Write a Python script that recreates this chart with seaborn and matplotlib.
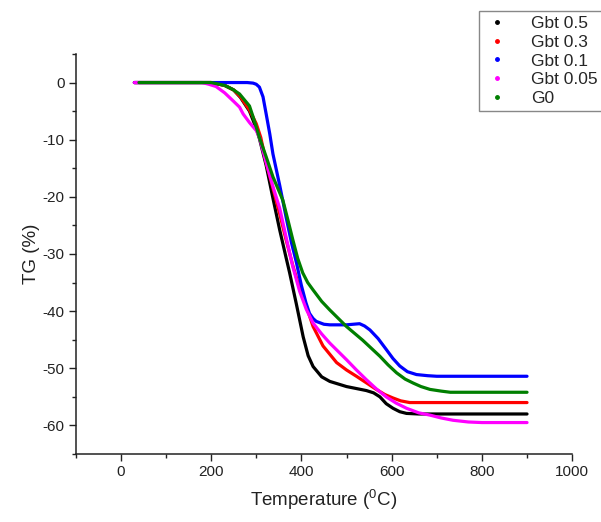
import numpy as np
import pandas as pd
import matplotlib
matplotlib.use("Agg")
import matplotlib.pyplot as plt
from matplotlib.lines import Line2D
from matplotlib.ticker import MultipleLocator
import seaborn as sns

# ---- data ----
series_names = ["Gbt 0.5", "Gbt 0.3", "Gbt 0.1", "Gbt 0.05", "G0"]
series_colors = ["#000000", "#ff0000", "#0000ff", "#ff00ff", "#007f00"]

t_gbt05 = [30, 100, 200, 230, 250, 265, 285, 300, 307, 322, 335, 345, 352, 366, 374, 389, 404,
           415, 426, 445, 463, 500, 544, 560, 574, 588, 603, 618, 633, 660, 700, 800, 900]
y_gbt05 = [0, 0, 0, -0.5, -1.3, -2.6, -5.0, -8.0, -9.8, -14.5, -19.5, -23.2, -25.8, -30.6, -33.3,
           -38.8, -44.5, -47.8, -49.7, -51.5, -52.3, -53.2, -53.9, -54.3, -55.0, -56.2, -57.0,
           -57.6, -57.9, -58.0, -58.0, -58.0, -58.0]

t_gbt03 = [30, 100, 200, 230, 250, 265, 285, 300, 310, 322, 337, 352, 366, 381, 396, 411, 426,
           448, 478, 500, 522, 545, 566, 585, 603, 620, 640, 700, 800, 900]
y_gbt03 = [0, 0, 0, -0.5, -1.3, -2.5, -4.8, -7.2, -9.6, -14.0, -18.5, -23.0, -27.5, -32.0, -36.0,
           -39.2, -42.7, -46.1, -49.0, -50.3, -51.4, -52.6, -53.7, -54.6, -55.2, -55.7, -56.0,
           -56.0, -56.0, -56.0]

t_gbt01 = [30, 100, 200, 280, 293, 300, 307, 315, 322, 330, 337, 352, 366, 378, 389, 400, 410,
           418, 426, 433, 450, 463, 500, 529, 540, 552, 570, 588, 603, 618, 635, 655, 680, 700,
           800, 900]
y_gbt01 = [0, 0, 0, 0, -0.1, -0.3, -0.8, -2.5, -5.5, -9.0, -12.5, -18.0, -23.5, -28.0, -31.5,
           -35.5, -38.5, -40.4, -41.3, -41.8, -42.3, -42.4, -42.4, -42.2, -42.6, -43.3, -44.8,
           -46.7, -48.3, -49.6, -50.6, -51.1, -51.3, -51.4, -51.4, -51.4]

t_gbt005 = [30, 100, 180, 195, 211, 230, 250, 263, 271, 285, 300, 307, 322, 337, 352, 366, 374,
            381, 396, 411, 426, 445, 463, 500, 522, 544, 566, 588, 610, 633, 660, 685, 710, 736,
            770, 800, 900]
y_gbt005 = [0, 0, 0, -0.3, -0.7, -1.8, -3.3, -4.3, -5.5, -7.0, -8.4, -9.6, -14.0, -18.2, -22.0,
            -27.0, -29.8, -32.2, -36.5, -39.7, -42.1, -44.0, -45.6, -48.5, -50.3, -52.0, -53.6,
            -55.0, -56.1, -57.0, -57.8, -58.2, -58.7, -59.1, -59.4, -59.5, -59.5]

t_g0 = [40, 100, 200, 230, 248, 263, 285, 293, 307, 322, 337, 359, 370, 381, 392, 403, 414, 426,
        445, 463, 500, 536, 574, 592, 611, 630, 648, 665, 685, 710, 730, 800, 900]
y_g0 = [0, 0, 0, -0.5, -1.2, -2.0, -4.1, -6.0, -9.6, -13.0, -16.5, -20.6, -24.0, -27.5, -30.8,
        -33.3, -35.0, -36.3, -38.3, -39.8, -42.7, -45.1, -47.9, -49.4, -50.8, -51.9, -52.6,
        -53.2, -53.7, -54.0, -54.2, -54.2, -54.2]

x_ticks = [0, 200, 400, 600, 800, 1000]
y_ticks = [0, -10, -20, -30, -40, -50, -60]

temps = [t_gbt05, t_gbt03, t_gbt01, t_gbt005, t_g0]
tgs = [y_gbt05, y_gbt03, y_gbt01, y_gbt005, y_g0]

frames = []
for name, t, y in zip(series_names, temps, tgs):
    frames.append(pd.DataFrame({"Temperature": t, "TG": y, "Sample": name}))
df = pd.concat(frames, ignore_index=True)

# ---- styling ----
sns.set_style("ticks")
plt.rcParams["font.family"] = ["Liberation Sans", "DejaVu Sans"]
plt.rcParams["mathtext.default"] = "regular"
plt.rcParams["axes.unicode_minus"] = False

fig = plt.figure(figsize=(6.01, 5.22), dpi=100)
ax = fig.add_axes([0.126, 0.1303, 0.826, 0.7663])

sns.lineplot(data=df, x="Temperature", y="TG", hue="Sample", hue_order=series_names,
             palette=dict(zip(series_names, series_colors)), sort=False, estimator=None,
             linewidth=2.3, legend=False, ax=ax)

ax.set_xlim(-100, 1000)
ax.set_ylim(-65, 5)
ax.set_xticks(x_ticks)
ax.set_yticks(y_ticks)
ax.xaxis.set_minor_locator(MultipleLocator(100))
ax.yaxis.set_minor_locator(MultipleLocator(5))
ax.tick_params(axis="both", which="major", direction="out", length=5, width=1,
               labelsize=11, color="#222222", labelcolor="#222222", pad=3)
ax.tick_params(axis="both", which="minor", direction="out", length=3, width=1, color="#222222")
sns.despine(ax=ax)
for s in ("left", "bottom"):
    ax.spines[s].set_linewidth(1.1)
    ax.spines[s].set_color("#222222")

ax.set_xlabel(r"Temperature ($^{0}$C)", fontsize=13.5, color="#222222", labelpad=6)
ax.set_ylabel("TG (%)", fontsize=13.5, color="#222222", labelpad=2)

handles = [Line2D([0], [0], color=c, marker="o", markersize=2.5, linestyle="none")
           for c in series_colors]
leg = fig.legend(handles, series_names, loc="upper left", bbox_to_anchor=(0.797, 0.979),
                 frameon=True, fancybox=False, framealpha=1, edgecolor="#888888",
                 fontsize=12.5, labelspacing=0.2, handlelength=1.5, handletextpad=1.2,
                 borderpad=0.3, borderaxespad=0)
leg.get_frame().set_linewidth(1.0)

fig.savefig("out.png", dpi=100)
